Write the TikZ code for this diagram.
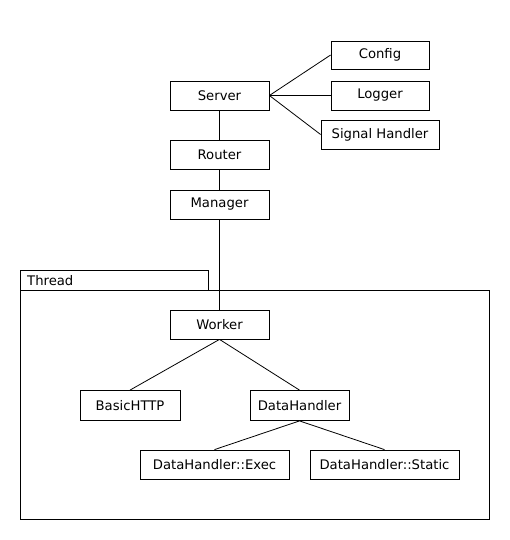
\documentclass[tikz,border=0pt]{standalone}
\usepackage{fontspec}
\setmainfont{DejaVu Sans}
\begin{document}
\begin{tikzpicture}[x=1pt,y=-1pt,
  box/.style={draw,line width=0.8pt,minimum height=29pt,inner sep=0pt,font=\fontsize{13.2}{15}\selectfont},
  link/.style={line width=0.8pt}]
\useasboundingbox (0,0) rectangle (510,540);
% thread frame
\draw[line width=0.8pt] (20,290) -- (20,270) -- (208,270) -- (208,290);
\draw[line width=0.8pt] (20,290) rectangle (489,519);
\node[anchor=west,inner sep=0pt,font=\fontsize{13.2}{15}\selectfont] (thr) at (27,281) {Thread};
% nodes
\node[box,minimum width=99pt] (server) at (219.5,95.5) {Server};
\node[box,minimum width=98pt,minimum height=28pt] (config) at (380,55) {Config};
\node[box,minimum width=98pt] (logger) at (380,95.5) {Logger};
\node[box,minimum width=118pt] (signal) at (380,134.5) {Signal Handler};
\node[box,minimum width=99pt] (router) at (219.5,154.5) {Router};
\node[box,minimum width=99pt] (manager) at (219.5,204.5) {Manager};
\node[box,minimum width=99pt] (worker) at (219.5,324.5) {Worker};
\node[box,minimum width=100pt,minimum height=30pt] (basic) at (130,405.5) {BasicHTTP};
\node[box,minimum width=99pt,minimum height=30pt] (dh) at (299.5,405.5) {DataHandler};
\node[box,minimum width=149pt] (exec) at (214.5,464.5) {DataHandler::Exec};
\node[box,minimum width=149pt] (static) at (384.5,464.5) {DataHandler::Static};
% connectors
\draw[link] (server.east) -- (config.west);
\draw[link] (server.east) -- (logger.west);
\draw[link] (server.east) -- (signal.west);
\draw[link] (server) -- (router);
\draw[link] (router) -- (manager);
\draw[link] (manager) -- (worker);
\draw[link] (worker.south) -- (basic.north);
\draw[link] (worker.south) -- (dh.north);
\draw[link] (dh.south) -- (exec.north);
\draw[link] (dh.south) -- (static.north);
\end{tikzpicture}
\end{document}
